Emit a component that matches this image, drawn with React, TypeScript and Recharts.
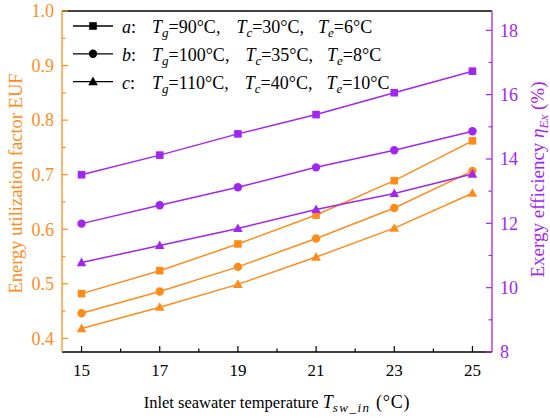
import React from 'react';
import { ComposedChart, Line, XAxis, YAxis, ReferenceLine, Legend } from 'recharts';

// inlet seawater temperature (°C)
const temps = [15, 17, 19, 21, 23, 25];

// energy utilization factor EUF (left axis)
const eufA = [0.482, 0.524, 0.573, 0.626, 0.689, 0.762];
const eufB = [0.446, 0.486, 0.531, 0.583, 0.639, 0.707];
const eufC = [0.418, 0.457, 0.499, 0.549, 0.602, 0.666];

// exergy efficiency (%) (right axis)
const exA = [13.51, 14.12, 14.78, 15.38, 16.06, 16.73];
const exB = [11.99, 12.56, 13.12, 13.74, 14.27, 14.86];
const exC = [10.78, 11.31, 11.84, 12.43, 12.93, 13.53];

const xTicks = [15, 16, 17, 18, 19, 20, 21, 22, 23, 24, 25];
const eufTicks = [0.4, 0.45, 0.5, 0.55, 0.6, 0.65, 0.7, 0.75, 0.8, 0.85, 0.9, 0.95, 1.0];
const exTicks = [8, 9, 10, 11, 12, 13, 14, 15, 16, 17, 18];

// legend rows
const caseKeys = ['a', 'b', 'c'];
const caseTg = ['90', '100', '110'];
const caseTc = ['30', '35', '40'];
const caseTe = ['6', '8', '10'];
const caseShapes = ['square', 'circle', 'triangle'];

const ORANGE = '#FF8C1A';
const PURPLE = '#A126F0';
const FONT = '"Liberation Serif", "Times New Roman", serif';

const data = temps.map((t, i) => ({
  t,
  eufA: eufA[i],
  eufB: eufB[i],
  eufC: eufC[i],
  exA: exA[i],
  exB: exB[i],
  exC: exC[i],
}));

function Marker({ cx, cy, shape, color }: { cx: number; cy: number; shape: string; color: string }) {
  if (shape === 'square') {
    return <rect x={cx - 3.8} y={cy - 3.8} width={7.6} height={7.6} fill={color} />;
  }
  if (shape === 'circle') {
    return <circle cx={cx} cy={cy} r={4.2} fill={color} />;
  }
  return <path d={`M${cx},${cy - 5}L${cx + 4.8},${cy + 3.6}L${cx - 4.8},${cy + 3.6}Z`} fill={color} />;
}

const dotOf = (shape: string, color: string) => (props: any) => {
  const key = `${shape}-${color}-${props.index}`;
  if (props.cx == null || props.cy == null) return <g key={key} />;
  return <Marker key={key} cx={props.cx} cy={props.cy} shape={shape} color={color} />;
};

const isMult = (v: number, step: number) => Math.abs(v / step - Math.round(v / step)) < 1e-6;

const LeftTick = (props: any) => {
  const { x, y, payload } = props;
  const v = payload.value;
  const major = isMult(v, 0.1);
  const ax = x + 8;
  return (
    <g>
      <line x1={ax} y1={y} x2={ax + (major ? 6 : 3.5)} y2={y} stroke={ORANGE} strokeWidth={1.2} />
      {major && (
        <text x={x} y={y} dy="0.35em" textAnchor="end" fill={ORANGE} fontSize={18} fontFamily={FONT}>
          {v.toFixed(1)}
        </text>
      )}
    </g>
  );
};

const RightTick = (props: any) => {
  const { x, y, payload } = props;
  const v = payload.value;
  const major = isMult(v, 2);
  const ax = x - 8;
  return (
    <g>
      <line x1={ax} y1={y} x2={ax - (major ? 6 : 3.5)} y2={y} stroke={PURPLE} strokeWidth={1.2} />
      {major && (
        <text x={x} y={y} dy="0.35em" textAnchor="start" fill={PURPLE} fontSize={18} fontFamily={FONT}>
          {v}
        </text>
      )}
    </g>
  );
};

const BottomTick = (props: any) => {
  const { x, y, payload } = props;
  const v = payload.value;
  const major = isMult(v - 15, 2);
  const ay = y - 12;
  return (
    <g>
      <line x1={x} y1={ay} x2={x} y2={ay - (major ? 6 : 3.5)} stroke="#000" strokeWidth={1.2} />
      {major && (
        <text x={x} y={y} dy="0.71em" textAnchor="middle" fill="#000" fontSize={17} fontFamily={FONT}>
          {v}
        </text>
      )}
    </g>
  );
};

const XTitle = (props: any) => {
  const vb = props.viewBox;
  return (
    <text x={vb.x + vb.width / 2} y={vb.y + 56} textAnchor="middle" fontSize={16.5} fontFamily={FONT} fill="#000">
      Inlet seawater temperature <tspan fontStyle="italic" fontSize={18}>T</tspan>
      <tspan fontStyle="italic" fontSize={13} dy={4} letterSpacing={1.5}>sw_in</tspan>
      <tspan dy={-4} fontSize={18} letterSpacing={0.8}> (°C)</tspan>
    </text>
  );
};

const LeftTitle = (props: any) => {
  const vb = props.viewBox;
  const cx = 22;
  const cy = vb.y + vb.height / 2 + 2;
  return (
    <text x={cx} y={cy} transform={`rotate(-90 ${cx} ${cy})`} textAnchor="middle" fontSize={18.5} fontFamily={FONT} fill={ORANGE}>
      Energy utilization factor EUF
    </text>
  );
};

const RightTitle = (props: any) => {
  const vb = props.viewBox;
  const cx = 544;
  const cy = vb.y + vb.height / 2 - 2;
  return (
    <text x={cx} y={cy} transform={`rotate(-90 ${cx} ${cy})`} textAnchor="middle" fontSize={19} fontFamily={FONT} fill={PURPLE}>
      Exergy efficiency <tspan fontStyle="italic">η</tspan>
      <tspan fontStyle="italic" fontSize={13} dy={4}>Ex</tspan>
      <tspan dy={-4}> (%)</tspan>
    </text>
  );
};

const CaseLegend = () => (
  <svg width={460} height={100} style={{ display: 'block' }}>
    {caseKeys.map((k, i) => {
      const base = 33 + i * 27.8;
      const my = base - 7;
      return (
        <g key={k}>
          <line x1={73} x2={113} y1={my} y2={my} stroke="#000" strokeWidth={1.3} />
          <Marker cx={93} cy={my} shape={caseShapes[i]} color="#000" />
          <text y={base} fontSize={18} fontFamily={FONT} fill="#000">
            <tspan x={122} fontStyle="italic">{k}</tspan>
            <tspan>:</tspan>
            <tspan x={152} fontStyle="italic">T</tspan>
            <tspan fontStyle="italic" fontSize={13} dy={4}>g</tspan>
            <tspan dy={-4}>={caseTg[i]}°C,</tspan>
            <tspan dx={16} fontStyle="italic">T</tspan>
            <tspan fontStyle="italic" fontSize={13} dy={4}>c</tspan>
            <tspan dy={-4}>={caseTc[i]}°C,</tspan>
            <tspan dx={14} fontStyle="italic">T</tspan>
            <tspan fontStyle="italic" fontSize={13} dy={4}>e</tspan>
            <tspan dy={-4}>={caseTe[i]}°C</tspan>
          </text>
        </g>
      );
    })}
  </svg>
);

export default function App() {
  return (
    <div style={{ position: 'absolute', left: 0, top: 0, width: 550, height: 420, background: '#fff' }}>
      <ComposedChart width={550} height={420} data={data} margin={{ top: 11, right: 0, bottom: 0, left: 0 }}>
        <XAxis
          xAxisId="x"
          type="number"
          dataKey="t"
          domain={[14.5, 25.5]}
          ticks={xTicks}
          interval={0}
          height={68}
          tickSize={0}
          tickMargin={12}
          tickLine={false}
          axisLine={{ stroke: '#000', strokeWidth: 1.3 }}
          tick={<BottomTick />}
          label={XTitle}
        />
        <YAxis
          yAxisId="left"
          orientation="left"
          domain={[0.375, 1.0]}
          ticks={eufTicks}
          interval={0}
          width={62}
          tickSize={0}
          tickMargin={8}
          tickLine={false}
          axisLine={{ stroke: ORANGE, strokeWidth: 1.3 }}
          tick={<LeftTick />}
          label={LeftTitle}
          allowDataOverflow
        />
        <YAxis
          yAxisId="right"
          orientation="right"
          domain={[8, 18.6]}
          ticks={exTicks}
          interval={0}
          width={58}
          tickSize={0}
          tickMargin={8}
          tickLine={false}
          axisLine={{ stroke: PURPLE, strokeWidth: 1.3 }}
          tick={<RightTick />}
          label={RightTitle}
          allowDataOverflow
        />
        <ReferenceLine xAxisId="x" yAxisId="left" y={1.0} stroke="#000" strokeWidth={1.3} />
        <Legend
          layout="horizontal"
          verticalAlign="middle"
          align="center"
          content={CaseLegend}
          wrapperStyle={{ position: 'absolute', left: 0, top: 0, width: 460, height: 100 }}
        />
        <Line xAxisId="x" yAxisId="left" dataKey="eufA" stroke={ORANGE} strokeWidth={1.5} dot={dotOf('square', ORANGE)} activeDot={false} legendType="none" isAnimationActive={false} />
        <Line xAxisId="x" yAxisId="left" dataKey="eufB" stroke={ORANGE} strokeWidth={1.5} dot={dotOf('circle', ORANGE)} activeDot={false} legendType="none" isAnimationActive={false} />
        <Line xAxisId="x" yAxisId="left" dataKey="eufC" stroke={ORANGE} strokeWidth={1.5} dot={dotOf('triangle', ORANGE)} activeDot={false} legendType="none" isAnimationActive={false} />
        <Line xAxisId="x" yAxisId="right" dataKey="exA" stroke={PURPLE} strokeWidth={1.5} dot={dotOf('square', PURPLE)} activeDot={false} legendType="none" isAnimationActive={false} />
        <Line xAxisId="x" yAxisId="right" dataKey="exB" stroke={PURPLE} strokeWidth={1.5} dot={dotOf('circle', PURPLE)} activeDot={false} legendType="none" isAnimationActive={false} />
        <Line xAxisId="x" yAxisId="right" dataKey="exC" stroke={PURPLE} strokeWidth={1.5} dot={dotOf('triangle', PURPLE)} activeDot={false} legendType="none" isAnimationActive={false} />
      </ComposedChart>
    </div>
  );
}
